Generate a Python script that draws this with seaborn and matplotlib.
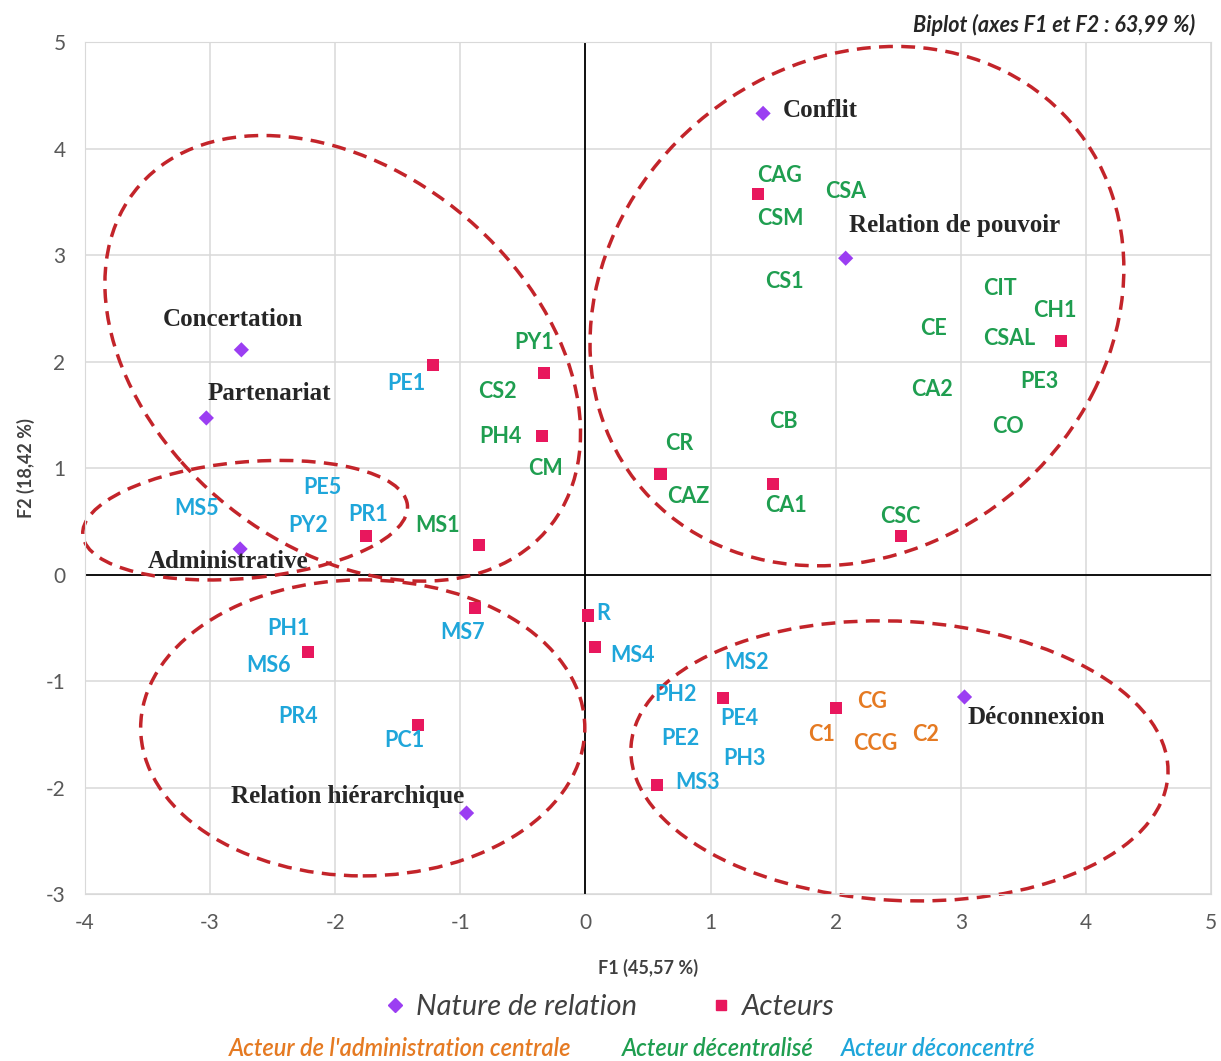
import pandas as pd
import matplotlib.pyplot as plt
import seaborn as sns
from matplotlib.patches import Ellipse
from matplotlib.lines import Line2D

sns.set_style("white")
plt.rcParams['font.family'] = ['Lato', 'DejaVu Sans']
plt.rcParams['axes.unicode_minus'] = False

# modalités "nature de relation" (losanges violets)
relations = ['Conflit', 'Relation de pouvoir', 'Concertation', 'Partenariat',
             'Administrative', 'Relation hiérarchique', 'Déconnexion']
rel_f1 = [1.42, 2.08, -2.75, -3.03, -2.76, -0.95, 3.03]
rel_f2 = [4.33, 2.97, 2.11, 1.47, 0.24, -2.24, -1.15]
rel_lab_f1 = [1.88, 2.95, -2.82, -2.53, -2.86, -1.90, 3.60]
rel_lab_f2 = [4.36, 3.28, 2.39, 1.70, 0.12, -2.08, -1.34]

# acteurs (carrés roses)
act_f1 = [1.38, -1.22, -0.33, -0.35, -1.75, -0.85, 0.60, 1.50, 2.52, 3.80,
          -0.88, 0.02, 0.08, -2.22, -1.34, 1.10, 2.00, 0.57]
act_f2 = [3.57, 1.97, 1.89, 1.30, 0.36, 0.28, 0.94, 0.85, 0.36, 2.19,
          -0.31, -0.385, -0.68, -0.73, -1.41, -1.16, -1.25, -1.98]

# étiquettes des acteurs
central = ['CG', 'C1', 'CCG', 'C2']
central_f1 = [2.29, 1.89, 2.32, 2.72]
central_f2 = [-1.19, -1.50, -1.59, -1.50]

decentr = ['CAG', 'CSA', 'CSM', 'CS1', 'CIT', 'CH1', 'CE', 'CSAL', 'PE3', 'CA2',
           'CB', 'CO', 'CR', 'CAZ', 'CA1', 'CSC', 'PY1', 'CS2', 'PH4', 'CM', 'MS1']
decentr_f1 = [1.55, 2.08, 1.56, 1.59, 3.31, 3.75, 2.78, 3.39, 3.63, 2.77,
              1.58, 3.38, 0.75, 0.82, 1.60, 2.52, -0.41, -0.70, -0.68, -0.32, -1.18]
decentr_f2 = [3.75, 3.60, 3.34, 2.75, 2.69, 2.48, 2.31, 2.22, 1.81, 1.74,
              1.44, 1.39, 1.23, 0.73, 0.65, 0.54, 2.18, 1.72, 1.30, 1.00, 0.46]

deconc = ['PE1', 'PE5', 'MS5', 'PY2', 'PR1', 'PH1', 'MS7', 'MS6', 'PR4', 'PC1',
          'R', 'MS4', 'MS2', 'PH2', 'PE4', 'PE2', 'PH3', 'MS3']
deconc_f1 = [-1.43, -2.10, -3.11, -2.22, -1.74, -2.37, -0.98, -2.53, -2.30, -1.45,
             0.14, 0.38, 1.29, 0.72, 1.23, 0.76, 1.27, 0.90]
deconc_f2 = [1.79, 0.82, 0.62, 0.46, 0.56, -0.51, -0.54, -0.85, -1.33, -1.56,
             -0.37, -0.76, -0.83, -1.13, -1.35, -1.54, -1.73, -1.95]

# regroupements (ellipses en pointillés)
ell_cx = [-1.94, 2.17, -2.72, -1.78, 2.51]
ell_cy = [2.03, 2.52, 0.51, -1.44, -1.75]
ell_w = [4.64, 5.01, 2.61, 3.55, 4.30]
ell_h = [3.23, 4.11, 1.09, 2.78, 2.62]
ell_ang = [-53, 66.4, 6.5, 0, -4]

purple = '#9b3ef2'
pink = '#e8175d'
c_orange = '#e57a22'
c_green = '#1f9e50'
c_blue = '#1fa6da'
red = '#c3242a'

fig = plt.figure(figsize=(12.21, 10.61), dpi=100)
ax = fig.add_axes([0.0696, 0.1574, 0.9222, 0.8030])

ax.axhline(0, color='black', lw=1.3, zorder=1)
ax.axvline(0, color='black', lw=1.3, zorder=1)

for cx, cy, w, h, a in zip(ell_cx, ell_cy, ell_w, ell_h, ell_ang):
    ax.add_patch(Ellipse((cx, cy), w, h, angle=a, fill=False, ec=red, lw=2.5,
                         ls=(0, (4, 2.4)), zorder=2, clip_on=False))

rel_df = pd.DataFrame({'F1': rel_f1, 'F2': rel_f2})
act_df = pd.DataFrame({'F1': act_f1, 'F2': act_f2})
sns.scatterplot(data=rel_df, x='F1', y='F2', marker='D', s=60, color=purple,
                edgecolor='none', ax=ax, zorder=3)
sns.scatterplot(data=act_df, x='F1', y='F2', marker='s', s=75, color=pink,
                edgecolor='none', ax=ax, zorder=3)

for name, x, y in zip(relations, rel_lab_f1, rel_lab_f2):
    ax.text(x, y, name, family='Liberation Serif', fontweight='bold', fontsize=18,
            ha='center', va='center', zorder=4)
for names, xs, ys, col in [(central, central_f1, central_f2, c_orange),
                           (decentr, decentr_f1, decentr_f2, c_green),
                           (deconc, deconc_f1, deconc_f2, c_blue)]:
    for name, x, y in zip(names, xs, ys):
        ax.text(x, y, name, color=col, fontweight='bold', fontsize=15.5,
                ha='center', va='center', zorder=4)

ax.set_xlim(-4, 5)
ax.set_ylim(-3, 5)
ax.set_xticks(range(-4, 6))
ax.set_yticks(range(-3, 6))
ax.grid(True, color='#d9d9d9', lw=1.1)
ax.set_axisbelow(True)
for sp in ax.spines.values():
    sp.set_color('#d9d9d9')
ax.tick_params(length=0, pad=14, labelsize=15, labelcolor='#595959')
ax.set_xlabel('F1 (45,57 %)', fontsize=13, fontweight='bold', color='#404040', labelpad=18)
ax.set_ylabel('F2 (18,42 %)', fontsize=13, fontweight='bold', color='#404040', labelpad=8)

fig.text(0.9787, 0.9764, 'Biplot (axes F1 et F2 : 63,99 %)', ha='right', va='center',
         fontsize=15.5, fontweight='bold', fontstyle='italic')

handles = [Line2D([], [], marker='D', ls='none', color=purple, markersize=7),
           Line2D([], [], marker='s', ls='none', color=pink, markersize=7)]
fig.legend(handles, ['Nature de relation', 'Acteurs'], loc='center', ncol=2,
           bbox_to_anchor=(0.5, 0.051), frameon=False, handlelength=0.6,
           handletextpad=0.4, columnspacing=2.6,
           prop={'size': 21, 'style': 'italic'}, labelcolor='#404040')

fig.text(0.3276, 0.012, "Acteur de l'administration centrale", color=c_orange,
         ha='center', va='center', fontsize=17, fontstyle='italic', fontweight='semibold')
fig.text(0.588, 0.012, 'Acteur décentralisé', color=c_green,
         ha='center', va='center', fontsize=17, fontstyle='italic', fontweight='semibold')
fig.text(0.768, 0.012, 'Acteur déconcentré', color=c_blue,
         ha='center', va='center', fontsize=17, fontstyle='italic', fontweight='semibold')

fig.savefig('out.png', dpi=100)
